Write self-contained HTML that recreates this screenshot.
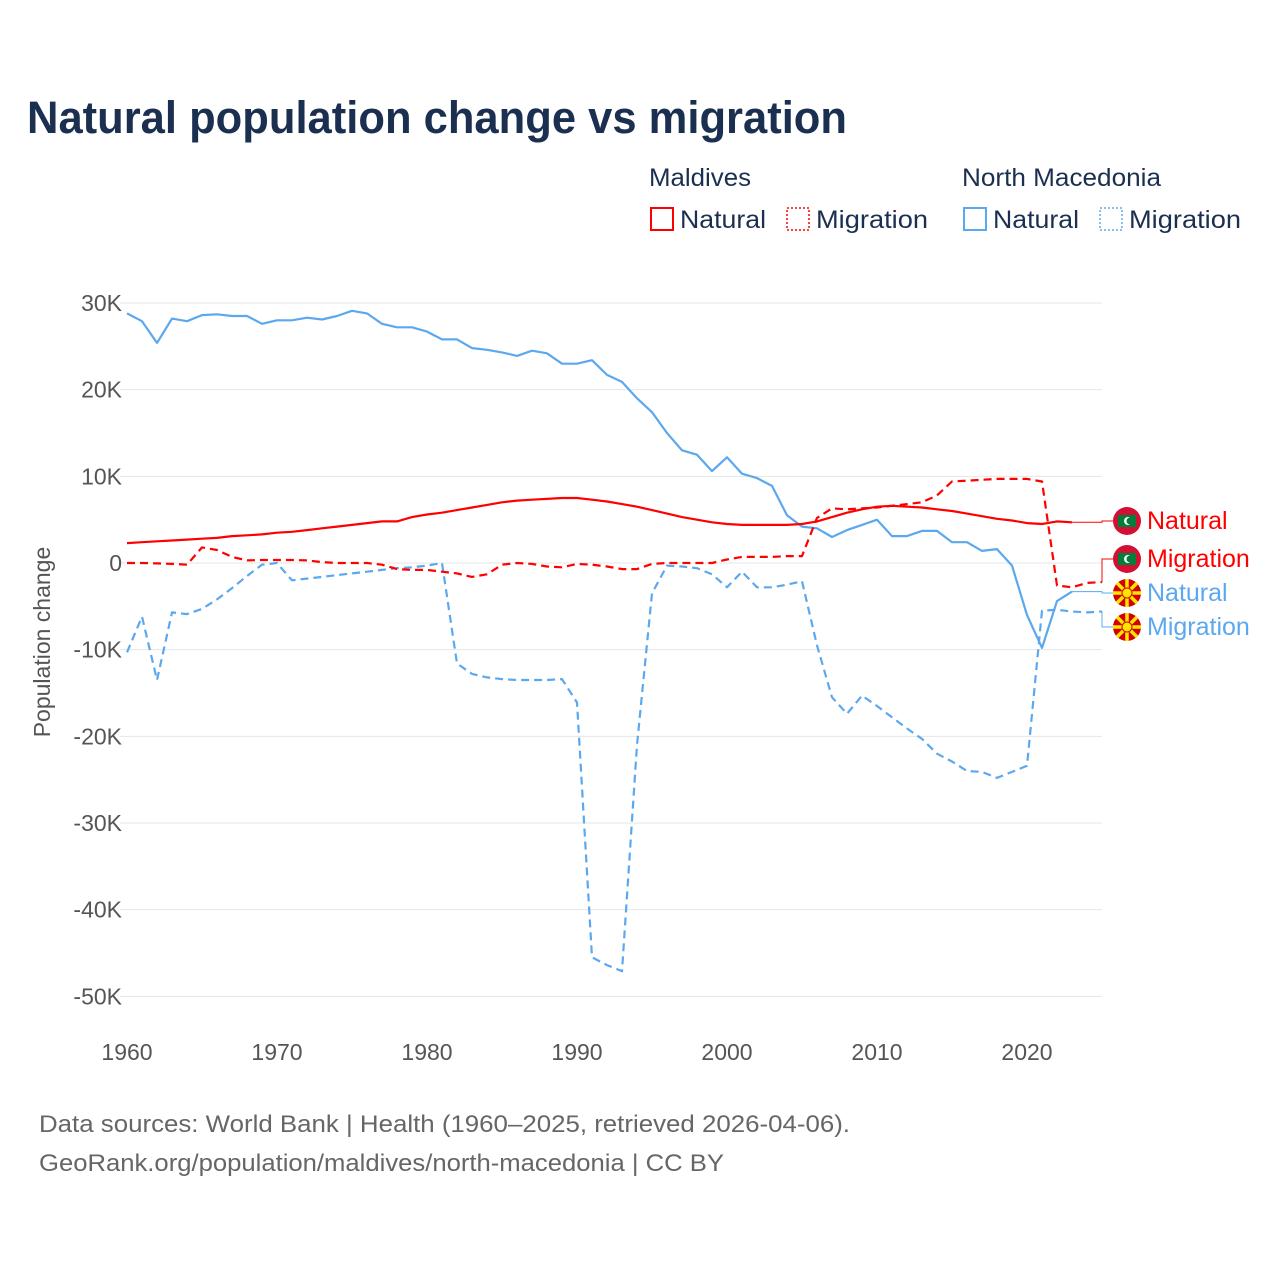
<!DOCTYPE html>
<html><head><meta charset="utf-8"><style>
body{margin:0;background:#fff;}
svg text{font-family:"Liberation Sans",sans-serif;}
</style></head><body>
<svg id="chart" width="1280" height="1280" viewBox="0 0 1280 1280" xmlns="http://www.w3.org/2000/svg">
<text x="27" y="133" font-size="45" font-weight="bold" fill="#1b2f50" textLength="820" lengthAdjust="spacingAndGlyphs">Natural population change vs migration</text>
<g font-size="25" fill="#1b2f50">
<text x="649" y="186" textLength="102" lengthAdjust="spacingAndGlyphs">Maldives</text>
<text x="962" y="186" textLength="199" lengthAdjust="spacingAndGlyphs">North Macedonia</text>
<g><rect x="651" y="208" width="22" height="22" fill="none" stroke="#ff0000" stroke-width="2"/><text x="680" y="228" textLength="86" lengthAdjust="spacingAndGlyphs">Natural</text></g>
<g><rect x="787" y="208" width="22" height="22" fill="none" stroke="#ff0000" stroke-width="1.5" stroke-dasharray="2,2"/><text x="816" y="228" textLength="112" lengthAdjust="spacingAndGlyphs">Migration</text></g>
<g><rect x="964" y="208" width="22" height="22" fill="none" stroke="#5ca8ee" stroke-width="2"/><text x="993" y="228" textLength="86" lengthAdjust="spacingAndGlyphs">Natural</text></g>
<g><rect x="1100" y="208" width="22" height="22" fill="none" stroke="#5ca8ee" stroke-width="1.5" stroke-dasharray="2,2"/><text x="1129" y="228" textLength="112" lengthAdjust="spacingAndGlyphs">Migration</text></g>
</g>
<text transform="translate(50,642) rotate(-90)" text-anchor="middle" font-size="23" fill="#555">Population change</text>
<g id="grid"></g>
<g id="series"></g>
<g id="labels"></g>
<text x="39" y="1132" font-size="24" fill="#666" textLength="811" lengthAdjust="spacingAndGlyphs">Data sources: World Bank | Health (1960–2025, retrieved 2026-04-06).</text>
<text x="39" y="1171" font-size="24" fill="#666" textLength="685" lengthAdjust="spacingAndGlyphs">GeoRank.org/population/maldives/north-macedonia | CC BY</text>
</svg>
<script>
const yTicks=[30,20,10,0,-10,-20,-30,-40,-50];
const yTickLabels=["30K","20K","10K","0","-10K","-20K","-30K","-40K","-50K"];
const xTicks=[1960,1970,1980,1990,2000,2010,2020];
const mvNatural=[2.3,2.4,2.5,2.6,2.7,2.8,2.9,3.1,3.2,3.3,3.5,3.6,3.8,4.0,4.2,4.4,4.6,4.8,4.8,5.3,5.6,5.8,6.1,6.4,6.7,7.0,7.2,7.3,7.4,7.5,7.5,7.3,7.1,6.8,6.5,6.1,5.7,5.3,5.0,4.7,4.5,4.4,4.4,4.4,4.4,4.5,4.8,5.3,5.8,6.2,6.5,6.6,6.5,6.4,6.2,6.0,5.7,5.4,5.1,4.9,4.6,4.5,4.8,4.7];
const mvMigration=[0,0,-0.05,-0.1,-0.2,1.8,1.5,0.7,0.3,0.35,0.35,0.35,0.3,0.1,0,0,0,-0.2,-0.7,-0.8,-0.8,-1.0,-1.2,-1.6,-1.3,-0.2,0,-0.1,-0.4,-0.5,-0.1,-0.2,-0.4,-0.7,-0.7,-0.1,0,0,0,0,0.4,0.7,0.7,0.7,0.8,0.8,5.2,6.3,6.2,6.3,6.4,6.6,6.8,7.0,7.8,9.4,9.5,9.6,9.7,9.7,9.7,9.4,-2.6,-2.8,-2.3,-2.2];
const mkNatural=[28.8,27.9,25.4,28.2,27.9,28.6,28.7,28.5,28.5,27.6,28.0,28.0,28.3,28.1,28.5,29.1,28.8,27.6,27.2,27.2,26.7,25.8,25.8,24.8,24.6,24.3,23.9,24.5,24.2,23.0,23.0,23.4,21.7,20.9,19.0,17.4,15.0,13.0,12.5,10.6,12.2,10.3,9.8,8.9,5.5,4.2,4.0,3.0,3.8,4.4,5.0,3.1,3.1,3.7,3.7,2.4,2.4,1.4,1.6,-0.3,-6.0,-9.8,-4.4,-3.3];
const mkMigration=[-10.3,-6.2,-13.5,-5.7,-5.9,-5.3,-4.2,-2.9,-1.5,-0.2,0.0,-2.0,-1.8,-1.6,-1.4,-1.2,-1.0,-0.8,-0.6,-0.5,-0.3,0.0,-11.6,-12.8,-13.2,-13.4,-13.5,-13.5,-13.5,-13.4,-16.1,-45.5,-46.4,-47.1,-21.0,-3.5,-0.3,-0.4,-0.6,-1.3,-2.8,-1.0,-2.8,-2.8,-2.5,-2.1,-9.5,-15.5,-17.4,-15.3,-16.5,-17.8,-19.1,-20.3,-22.0,-22.9,-24.0,-24.1,-24.8,-24.1,-23.4,-5.5,-5.4,-5.6,-5.7,-5.6];
const NS="http://www.w3.org/2000/svg";
const X=yr=>127+(yr-1960)*15;
const Y=v=>563-v*8.667;
const grid=document.getElementById('grid');
function el(tag,attrs,parent){const e=document.createElementNS(NS,tag);for(const k in attrs)e.setAttribute(k,attrs[k]);parent.appendChild(e);return e;}
yTicks.forEach((t,i)=>{
  const l=el('line',{x1:120,x2:1102,y1:Y(t),y2:Y(t),stroke:'#e6e6e6','stroke-width':1},grid);
  
  
  const tx=el('text',{x:122,y:Y(t)+8,'text-anchor':'end','font-size':23,fill:'#555'},grid);
  tx.textContent=yTickLabels[i];
  
  
});
xTicks.forEach(t=>{
  const tx=el('text',{x:X(t),y:1060,'text-anchor':'middle','font-size':23,fill:'#555'},grid);
  tx.textContent=t;
  
  
});
const ser=document.getElementById('series');
function line(data,color,dash,name){
  const d=data.map((v,i)=>(i?'L':'M')+X(1960+i).toFixed(1)+','+Y(v).toFixed(1)).join('');
  const p=el('path',{d:d,fill:'none',stroke:color,'stroke-width':2.2,'stroke-dasharray':dash||'none','stroke-linejoin':'round'},ser);
  
  
  return p;
}
line(mkMigration,'#5ca8ee','8,5','line-macedonia-migration');
line(mkNatural,'#5ca8ee','','line-macedonia-natural');
line(mvMigration,'#ff0000','8,5','line-maldives-migration');
line(mvNatural,'#ff0000','','line-maldives-natural');
const lab=document.getElementById('labels');
const ends=[
 {data:mvNatural,color:'#ff0000',text:'Natural',ly:521,flag:'mv',name:'end-label-maldives-natural'},
 {data:mvMigration,color:'#ff0000',text:'Migration',ly:559,flag:'mv',name:'end-label-maldives-migration'},
 {data:mkNatural,color:'#5ca8ee',text:'Natural',ly:593,flag:'mk',name:'end-label-macedonia-natural'},
 {data:mkMigration,color:'#5ca8ee',text:'Migration',ly:627,flag:'mk',name:'end-label-macedonia-migration'}];
ends.forEach(e=>{
  const g=el('g',{},lab);
  
  
  const n=e.data.length-1,x0=X(1960+n),y0=Y(e.data[n]);
  el('path',{d:`M${x0},${y0}L1102,${y0}L1102,${e.ly}L1113,${e.ly}`,fill:'none',stroke:e.color,'stroke-width':1},g);
  if(e.flag==='mv'){
    el('circle',{cx:1127,cy:e.ly,r:14,fill:'#d21034'},g);
    el('rect',{x:1118,y:e.ly-6,width:18,height:12,fill:'#007e3a'},g);
    el('circle',{cx:1128,cy:e.ly,r:4,fill:'#fff'},g);
    el('circle',{cx:1130,cy:e.ly,r:3.5,fill:'#007e3a'},g);
  }else{
    el('circle',{cx:1127,cy:e.ly,r:14,fill:'#d20000'},g);
    for(let a=0;a<8;a++){const ang=a*Math.PI/4;el('line',{x1:1127,y1:e.ly,x2:1127+14*Math.cos(ang),y2:e.ly+14*Math.sin(ang),stroke:'#ffe600','stroke-width':3.5},g);}
    el('circle',{cx:1127,cy:e.ly,r:5,fill:'#ffe600',stroke:'#d20000','stroke-width':1},g);
  }
  const t=el('text',{x:1147,y:e.ly+8,'font-size':25,fill:e.color},g);
  t.textContent=e.text;
});
</script>
</body></html>
